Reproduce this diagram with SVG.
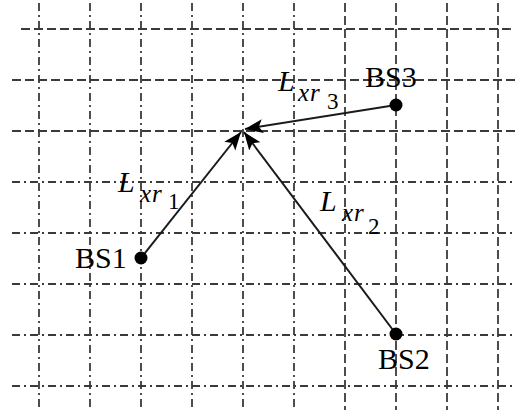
<svg xmlns="http://www.w3.org/2000/svg" width="522" height="417" viewBox="0 0 522 417">
<style>
.g{stroke:#3a3a3a;stroke-width:1.8;fill:none}
.d{stroke-dasharray:9 4}
.dd{stroke-dasharray:8 4 2 4}
.c{stroke:#1a1a1a;stroke-width:2;fill:none}
.t{font-family:"Liberation Serif",serif;fill:#000}
.L{font-size:30px;font-style:italic}
.s{font-size:25px;font-style:italic;letter-spacing:1px}
.n{font-size:23px}
.b{font-size:30px}
</style>
<defs>
<marker id="ah" markerUnits="userSpaceOnUse" markerWidth="20" markerHeight="16" refX="18" refY="8" orient="auto">
<path d="M0,1 L18,8 L0,15 L4,8 Z" fill="#000"/>
</marker>
</defs>
<g id="grid">
<line class="g d" x1="21" y1="29" x2="515" y2="29"/>
<line class="g d" x1="12" y1="80" x2="515" y2="80"/>
<line class="g d" x1="12" y1="131" x2="515" y2="131"/>
<line class="g dd" x1="12" y1="182" x2="515" y2="182"/>
<line class="g dd" x1="12" y1="233" x2="515" y2="233"/>
<line class="g dd" x1="12" y1="284" x2="515" y2="284"/>
<line class="g dd" x1="12" y1="335" x2="515" y2="335"/>
<line class="g dd" x1="12" y1="386" x2="515" y2="386"/>
<line class="g dd" x1="39" y1="3" x2="39" y2="410"/>
<line class="g dd" x1="90" y1="3" x2="90" y2="410"/>
<line class="g dd" x1="141" y1="3" x2="141" y2="410"/>
<line class="g dd" x1="192" y1="3" x2="192" y2="410"/>
<line class="g dd" x1="243" y1="3" x2="243" y2="410"/>
<line class="g dd" x1="294" y1="3" x2="294" y2="410"/>
<line class="g d" x1="345" y1="3" x2="345" y2="410"/>
<line class="g d" x1="396" y1="3" x2="396" y2="410"/>
<line class="g d" x1="447" y1="3" x2="447" y2="410"/>
<line class="g d" x1="498" y1="3" x2="498" y2="410"/>
</g>
<g id="connectors">
<line class="c" x1="141" y1="258" x2="241" y2="132" marker-end="url(#ah)"/>
<line class="c" x1="396" y1="334" x2="244" y2="132" marker-end="url(#ah)"/>
<line class="c" x1="396" y1="105" x2="245" y2="129" marker-end="url(#ah)"/>
</g>
<g id="bs1">
<circle cx="141" cy="258" r="6.5" fill="#000"/>
<text class="t b" x="75" y="268">BS1</text>
</g>
<g id="bs2">
<circle cx="396" cy="334" r="6.5" fill="#000"/>
<text class="t b" x="378" y="369">BS2</text>
</g>
<g id="bs3">
<circle cx="396" cy="105" r="6.5" fill="#000"/>
<text class="t b" x="365" y="87">BS3</text>
</g>
<g id="label1">
<text class="t L" x="118" y="192">L</text>
<text class="t s" x="140" y="202">xr</text>
<text class="t n" x="168" y="209">1</text>
</g>
<g id="label2">
<text class="t L" x="320" y="211">L</text>
<text class="t s" x="342" y="221">xr</text>
<text class="t n" x="368" y="234">2</text>
</g>
<g id="label3">
<text class="t L" x="278" y="91">L</text>
<text class="t s" x="298" y="101">xr</text>
<text class="t n" x="327" y="109">3</text>
</g>
</svg>
